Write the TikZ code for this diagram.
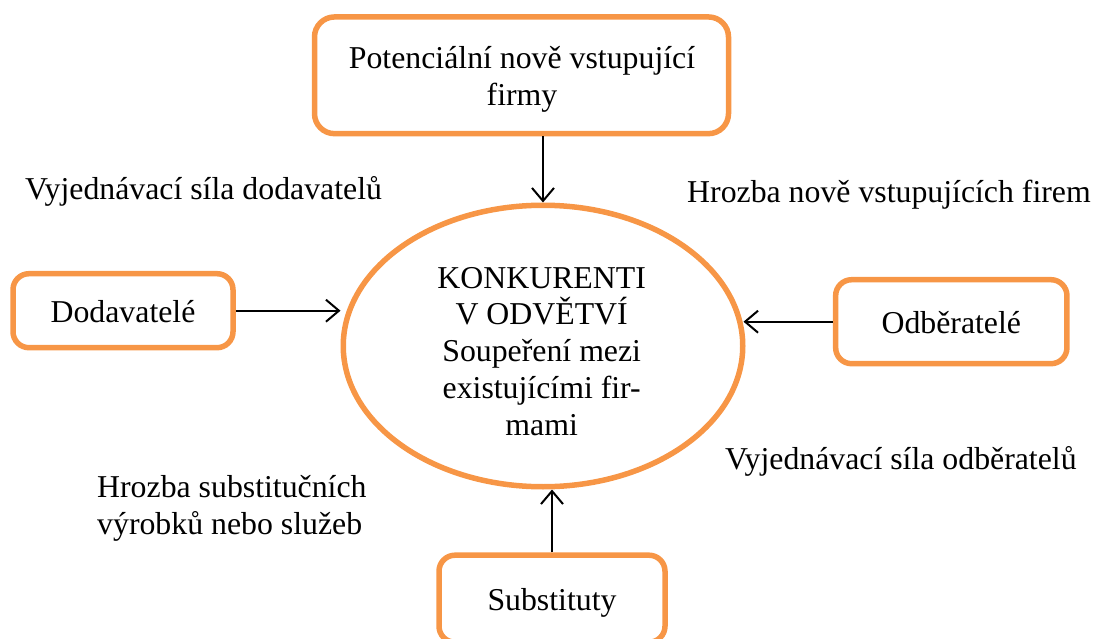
\documentclass[tikz,border=0pt]{standalone}
\usepackage{fontspec}
\setmainfont{Liberation Serif}
\usetikzlibrary{shapes.geometric,arrows.meta}
\definecolor{frameorange}{HTML}{F79646}
\tikzset{
  txt/.style={inner sep=0pt, font=\fontsize{31.8}{36.7}\selectfont},
  forcebox/.style={draw=frameorange, line width=5.5pt, rounded corners=16pt,
    inner sep=0pt, font=\fontsize{31.8}{36.7}\selectfont,
    text height=25pt, text depth=2.4pt},
  arr/.style={line width=2pt, -{Straight Barb[length=13pt,width=22pt,line width=2pt]}}
}
\begin{document}
\begin{tikzpicture}[x=1pt,y=-1pt]
\useasboundingbox (0,0) rectangle (1098,639);

% central ellipse: competitors in the industry
\node[draw=frameorange, line width=5.5pt, ellipse, inner sep=0pt,
      minimum width=399.5pt, minimum height=281.5pt] (ell) at (543,346) {};
\node[txt, align=center] (elltxt) at (541.7,351.3)
  {KONKURENTI\\V ODVĚTVÍ\\Soupeření mezi\\existujícími fir-\\mami};

% the four forces around it
\node[forcebox, rounded corners=20pt, minimum width=414pt, minimum height=116.7pt] (top) at (521.5,75.3) {};
\node[txt, align=center] (toptxt) at (522,79.7) {Potenciální nově vstupující\\firmy};

\node[forcebox, minimum width=220pt, minimum height=74pt] (dod) at (123,310.7) {Dodavatelé};
\node[forcebox, minimum width=231.3pt, minimum height=84pt] (odb) at (951.3,321.7) {Odběratelé};
\node[forcebox, minimum width=226pt, minimum height=87pt] (sub) at (552,598.7) {Substituty};

% arrows into the ellipse
\draw[arr] (top.south -| ell.north) -- (ell.north);
\draw[arr] (dod.east) -- (dod.east -| ell.west);
\draw[arr] (odb.west) -- ([xshift=-2pt]odb.west -| ell.east);
\draw[arr] (sub.north) -- (sub.north |- ell.south);

% captions of the forces
\node[txt, anchor=base west] (capdod) at (25,200) {Vyjednávací síla dodavatelů};
\node[txt, anchor=base west] (capnew) at (687,203) {Hrozba nově vstupujících firem};
\node[txt, anchor=base west] (capodb) at (725,469) {Vyjednávací síla odběratelů};
\node[txt, anchor=west, align=left] (capsub) at (97,508.3) {Hrozba substitučních\\výrobků nebo služeb};
\end{tikzpicture}
\end{document}
